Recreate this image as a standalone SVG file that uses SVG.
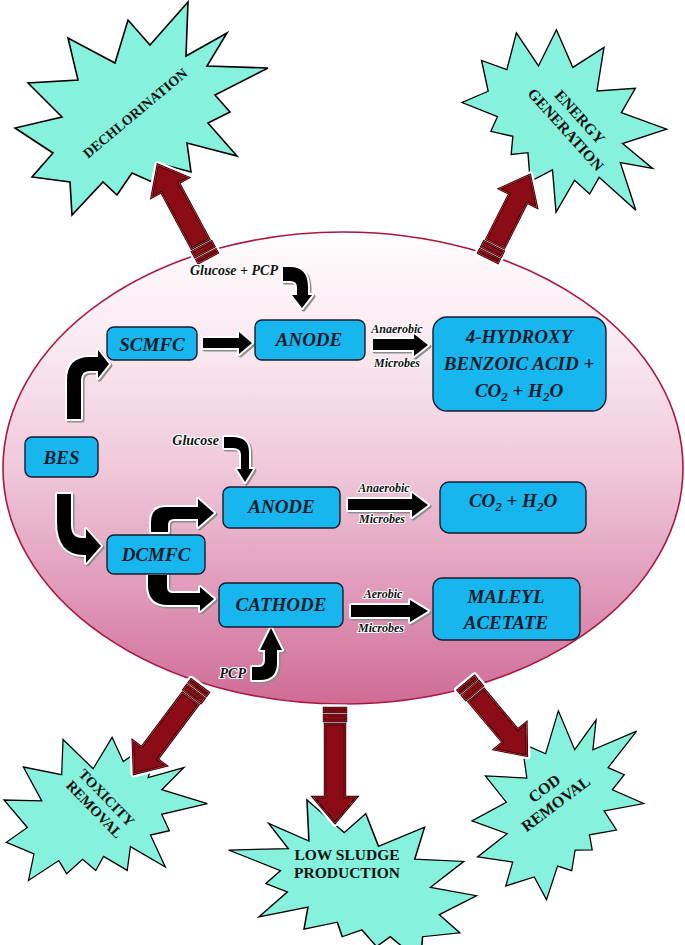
<svg xmlns="http://www.w3.org/2000/svg" xmlns:xlink="http://www.w3.org/1999/xlink" width="685" height="945" viewBox="0 0 685 945">
<style>
.star{fill:#86f2de;stroke:#000;stroke-width:1.6;stroke-linejoin:miter}
.st{font-family:"Liberation Serif","Times New Roman",serif;font-weight:bold;fill:#111;text-anchor:middle}
.box{fill:#17b6ef;stroke:#1a1a2c;stroke-width:1.4}
.bt{font-family:"Liberation Serif","Times New Roman",serif;font-weight:bold;font-style:italic;font-size:19px;fill:#0d1b2a;text-anchor:middle}
.lbl{font-family:"Liberation Serif","Times New Roman",serif;font-weight:bold;font-style:italic;font-size:12px;fill:#111;stroke:#fff;stroke-width:2;paint-order:stroke;text-anchor:middle}
.gl{font-size:14px;text-anchor:end}
.sh{fill:#8c8c8c;stroke:#8c8c8c;stroke-width:4;stroke-linejoin:round}
.fa{fill:#000;stroke:#fff;stroke-width:4;stroke-linejoin:round;paint-order:stroke}
.rh{fill:#fff;stroke:#fff;stroke-width:7;stroke-linejoin:round}
.rb{fill:#8b0b16;stroke:#000;stroke-width:2.4}
.rr{fill:none;stroke:#e8182c;stroke-width:1}
</style>
<defs>
<linearGradient id="eg" x1="0" y1="0" x2="0" y2="1">
<stop offset="0" stop-color="#fffcfd"/>
<stop offset="0.25" stop-color="#f9e8f0"/>
<stop offset="0.5" stop-color="#efc8da"/>
<stop offset="0.75" stop-color="#e19cbb"/>
<stop offset="1" stop-color="#cf6b95"/>
</linearGradient>
<polygon id="starShape" points="48,-108 46,-54 87,-77 67,-44 128,-42 75,-15 90,2 68,13 97,46 47,33 51,62 17,53 12,72 -8,63 -23,85 -37,72 -68,105 -70,72 -108,67 -87,43 -125,18 -78,7 -112,-27 -62,-30 -72,-72 -25,-47 -12,-90 10,-65"/>
<g id="ra1"><rect x="0" y="-11" width="4" height="22"/><rect x="7" y="-11" width="6" height="22"/><path d="M16,-10 L80,-10 L80,-21 L106,0 L80,21 L80,10 L16,10 Z"/></g>
<g id="ra2"><rect x="0" y="-11" width="4" height="22"/><rect x="7" y="-11" width="6" height="22"/><path d="M16,-10 L67,-10 L67,-21 L93,0 L67,21 L67,10 L16,10 Z"/></g>
<g id="ra3"><rect x="0" y="-11" width="4" height="22"/><rect x="7" y="-11" width="6" height="22"/><path d="M16,-10 L84,-10 L84,-21 L110,0 L84,21 L84,10 L16,10 Z"/></g>
<g id="ra4"><rect x="0" y="-11" width="4" height="22"/><rect x="7" y="-11" width="6" height="22"/><path d="M16,-10 L89,-10 L89,-22 L115,0 L89,22 L89,10 L16,10 Z"/></g>
<g id="ra5"><rect x="0" y="-11" width="4" height="22"/><rect x="7" y="-11" width="6" height="22"/><path d="M16,-10 L69,-10 L69,-21 L95,0 L69,21 L69,10 L16,10 Z"/></g>
<path id="aA" d="M67,419 L67,380 Q67,357 90,357 L98,357 L98,350 L109,364 L98,378 L98,371 L90,371 Q81,371 81,380 L81,419 Z"/>
<path id="aB" d="M203,338 L239,338 L239,332 L252,343 L239,354 L239,348 L203,348 Z"/>
<path id="aC" d="M283,267 L290,267 Q308,267 308,287 L308,295 L312,295 L302,308 L292,295 L297,295 L297,287 Q297,281 290,281 L283,281 Z"/>
<path id="aD" d="M373,339 L414,339 L414,334 L428,345 L414,356 L414,350 L373,350 Z"/>
<path id="aE" d="M224,437 L232,437 Q249,437 249,452 L249,469 L253,469 L245,482 L237,469 L241,469 L241,455 Q241,448 233,448 L224,448 Z"/>
<path id="aF" d="M151,532 L151,522 Q151,507 166,507 L198,507 L198,499 L214,513 L198,527 L198,519 L174,519 Q168,519 168,525 L168,532 Z"/>
<path id="aG" d="M148,575 L148,585 Q148,605 168,605 L200,605 L200,611 L214,599 L200,587 L200,593 L173,593 Q167,593 167,587 L167,575 Z"/>
<path id="aH" d="M57,494 L57,522 Q57,555 84,555 L86,555 L86,563 L101,546 L86,529 L86,538 L82,538 Q71,538 71,525 L71,494 Z"/>
<path id="aI" d="M252,667 L259,667 Q265,667 265,660 L265,650 L260,650 L271,628 L282,650 L277,650 L277,663 Q277,680 260,680 L252,680 Z"/>
<path id="aJ" d="M348,499 L412,499 L412,493 L428,505 L412,517 L412,510 L348,510 Z"/>
<path id="aK" d="M351,605 L410,605 L410,600 L428,611 L410,622 L410,617 L351,617 Z"/>
</defs>

<rect width="685" height="945" fill="#fff"/>

<g id="ellipse">
<ellipse cx="343" cy="468" rx="340" ry="236" fill="url(#eg)" stroke="#a8183f" stroke-width="1.6"/>
</g>

<g id="star-dechlorination">
<use xlink:href="#starShape" href="#starShape" class="star" transform="translate(140,110)"/>
<text class="st" font-size="14" transform="translate(135,113) rotate(-40)" y="5">DECHLORINATION</text>
</g>
<g id="star-energy">
<use xlink:href="#starShape" href="#starShape" class="star" transform="translate(566,124) rotate(70) scale(0.82,0.86)"/>
<text class="st" font-size="15.5" transform="translate(573,123) rotate(48)"><tspan x="0" y="-4">ENERGY</tspan><tspan x="0" y="15">GENERATION</tspan></text>
</g>
<g id="star-toxicity">
<use xlink:href="#starShape" href="#starShape" class="star" transform="translate(102,811) rotate(15) scale(0.78,0.82)"/>
<text class="st" font-size="14.5" transform="translate(101,803) rotate(46)"><tspan x="0" y="-3">TOXICITY</tspan><tspan x="0" y="14">REMOVAL</tspan></text>
</g>
<g id="star-sludge">
<use xlink:href="#starShape" href="#starShape" class="star" transform="translate(354,882) scale(-0.98,0.76)"/>
<text class="st" font-size="15.5"><tspan x="347" y="860">LOW SLUDGE</tspan><tspan x="347" y="878">PRODUCTION</tspan></text>
</g>
<g id="star-cod">
<use xlink:href="#starShape" href="#starShape" class="star" transform="translate(560,803) rotate(-25) scale(0.78,0.78)"/>
<text class="st" font-size="16" transform="translate(550,796) rotate(-37)"><tspan x="0" y="-4">COD</tspan><tspan x="0" y="15">REMOVAL</tspan></text>
</g>

<g id="outcome-arrows">
<g transform="translate(208,258) rotate(-118.3)"><use href="#ra1" xlink:href="#ra1" class="rh"/><use href="#ra1" xlink:href="#ra1" class="rb"/><use href="#ra1" xlink:href="#ra1" class="rr"/></g>
<g transform="translate(488,258) rotate(-63.2)"><use href="#ra2" xlink:href="#ra2" class="rh"/><use href="#ra2" xlink:href="#ra2" class="rb"/><use href="#ra2" xlink:href="#ra2" class="rr"/></g>
<g transform="translate(200,686) rotate(126.9)"><use href="#ra3" xlink:href="#ra3" class="rh"/><use href="#ra3" xlink:href="#ra3" class="rb"/><use href="#ra3" xlink:href="#ra3" class="rr"/></g>
<g transform="translate(335,708) rotate(90)"><use href="#ra4" xlink:href="#ra4" class="rh"/><use href="#ra4" xlink:href="#ra4" class="rb"/><use href="#ra4" xlink:href="#ra4" class="rr"/></g>
<g transform="translate(466,683) rotate(50.1)"><use href="#ra5" xlink:href="#ra5" class="rh"/><use href="#ra5" xlink:href="#ra5" class="rb"/><use href="#ra5" xlink:href="#ra5" class="rr"/></g>
</g>

<g id="connectors">
<use href="#aA" xlink:href="#aA" class="sh" x="1.5" y="1.5"/><use href="#aA" xlink:href="#aA" class="fa"/>
<use href="#aB" xlink:href="#aB" class="sh" x="1.5" y="1.5"/><use href="#aB" xlink:href="#aB" class="fa"/>
<use href="#aC" xlink:href="#aC" class="sh" x="1.5" y="1.5"/><use href="#aC" xlink:href="#aC" class="fa"/>
<use href="#aD" xlink:href="#aD" class="sh" x="1.5" y="1.5"/><use href="#aD" xlink:href="#aD" class="fa"/>
<use href="#aE" xlink:href="#aE" class="sh" x="1.5" y="1.5"/><use href="#aE" xlink:href="#aE" class="fa"/>
<use href="#aF" xlink:href="#aF" class="sh" x="1.5" y="1.5"/><use href="#aF" xlink:href="#aF" class="fa"/>
<use href="#aG" xlink:href="#aG" class="sh" x="1.5" y="1.5"/><use href="#aG" xlink:href="#aG" class="fa"/>
<use href="#aH" xlink:href="#aH" class="sh" x="1.5" y="1.5"/><use href="#aH" xlink:href="#aH" class="fa"/>
<use href="#aI" xlink:href="#aI" class="sh" x="1.5" y="1.5"/><use href="#aI" xlink:href="#aI" class="fa"/>
<use href="#aJ" xlink:href="#aJ" class="sh" x="1.5" y="1.5"/><use href="#aJ" xlink:href="#aJ" class="fa"/>
<use href="#aK" xlink:href="#aK" class="sh" x="1.5" y="1.5"/><use href="#aK" xlink:href="#aK" class="fa"/>
<text class="lbl gl" x="278" y="275">Glucose + PCP</text>
<text class="lbl gl" x="219" y="445">Glucose</text>
<text class="lbl gl" x="246" y="678">PCP</text>
<text class="lbl" x="397" y="333">Anaerobic</text>
<text class="lbl" x="397" y="367">Microbes</text>
<text class="lbl" x="384" y="492">Anaerobic</text>
<text class="lbl" x="382" y="523">Microbes</text>
<text class="lbl" x="383" y="598">Aerobic</text>
<text class="lbl" x="381" y="632">Microbes</text>
</g>

<g id="node-scmfc"><rect class="box" x="107" y="327" width="90" height="33" rx="7"/><text class="bt" x="152" y="351">SCMFC</text></g>
<g id="node-anode1"><rect class="box" x="255" y="320" width="110" height="40" rx="7"/><text class="bt" x="309" y="346">ANODE</text></g>
<g id="node-hydroxy"><rect class="box" x="433" y="317" width="173" height="94" rx="14"/><text class="bt"><tspan x="519" y="343">4-HYDROXY</tspan><tspan x="519" y="370">BENZOIC ACID +</tspan><tspan x="519" y="397">CO<tspan font-size="13" dy="4">2</tspan><tspan dy="-4"> + H</tspan><tspan font-size="13" dy="4">2</tspan><tspan dy="-4">O</tspan></tspan></text></g>
<g id="node-bes"><rect class="box" x="25" y="437" width="73" height="40" rx="7"/><text class="bt" x="61.5" y="464">BES</text></g>
<g id="node-anode2"><rect class="box" x="223" y="487" width="117" height="41" rx="7"/><text class="bt" x="281.5" y="513">ANODE</text></g>
<g id="node-dcmfc"><rect class="box" x="107" y="535" width="98" height="39" rx="7"/><text class="bt" x="156" y="561">DCMFC</text></g>
<g id="node-cathode"><rect class="box" x="219" y="583" width="124" height="44" rx="7"/><text class="bt" x="281" y="611">CATHODE</text></g>
<g id="node-co2"><rect class="box" x="440" y="482" width="146" height="51" rx="9"/><text class="bt" x="513" y="507">CO<tspan font-size="13" dy="4">2</tspan><tspan dy="-4"> + H</tspan><tspan font-size="13" dy="4">2</tspan><tspan dy="-4">O</tspan></text></g>
<g id="node-maleyl"><rect class="box" x="433" y="578" width="147" height="62" rx="9"/><text class="bt"><tspan x="506" y="603">MALEYL</tspan><tspan x="506" y="629">ACETATE</tspan></text></g>
</svg>
